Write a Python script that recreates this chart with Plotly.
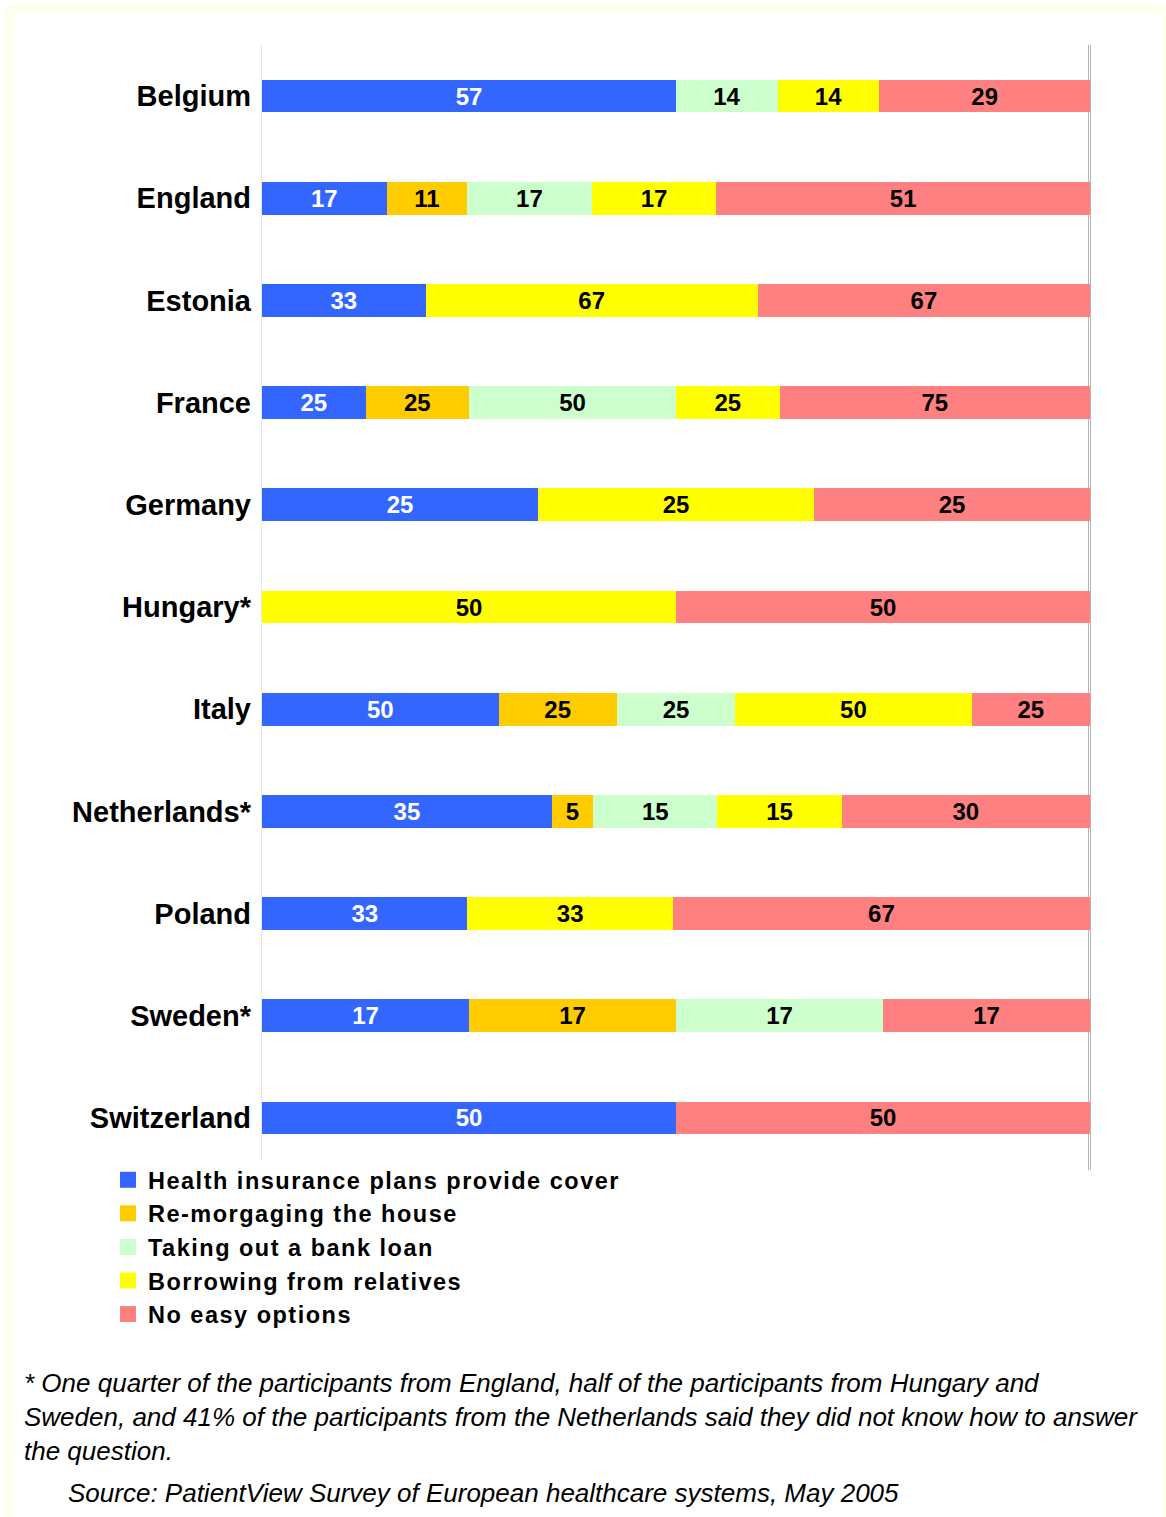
import plotly.graph_objects as go

# Survey answers per country (percentages as reported by respondents)
countries = ["Belgium", "England", "Estonia", "France", "Germany", "Hungary*",
             "Italy", "Netherlands*", "Poland", "Sweden*", "Switzerland"]

health_insurance = [57, 17, 33, 25, 25, None, 50, 35, 33, 17, 50]
remortgaging     = [None, 11, None, 25, None, None, 25, 5, None, 17, None]
bank_loan        = [14, 17, None, 50, None, None, 25, 15, None, 17, None]
relatives        = [14, 17, 67, 25, 25, 50, 50, 15, 33, None, None]
no_easy_options  = [29, 51, 67, 75, 25, 50, 25, 30, 67, 17, 50]

series_names = ["Health insurance plans provide cover", "Re-morgaging the house",
                "Taking out a bank loan", "Borrowing from relatives", "No easy options"]
series_values = [health_insurance, remortgaging, bank_loan, relatives, no_easy_options]
series_colors = ["#3366FF", "#FFCC00", "#CCFFCC", "#FFFF00", "#FF8080"]
label_colors = ["#FFFFFF", "#000000", "#000000", "#000000", "#000000"]

footnote_lines = [
    "* One quarter of the participants from England, half of the participants from Hungary and",
    "Sweden, and 41% of the participants from the Netherlands said they did not know how to answer",
    "the question.",
]
source_line = "Source: PatientView Survey of European healthcare systems, May 2005"

# Page geometry (pixels)
W, H = 1166, 1517
PLOT_L, PLOT_R, PLOT_T, PLOT_B = 262, 1090, 45, 1169
FONT = "Liberation Sans, Arial, sans-serif"


def px_x(px):
    return (px - PLOT_L) / (PLOT_R - PLOT_L)


def px_y(py):
    return (PLOT_B - py) / (PLOT_B - PLOT_T)


def spaced(text, px):
    return f'<span style="letter-spacing:{px}px">{text}</span>'


fig = go.Figure()

for name, vals, color, tcolor in zip(series_names, series_values, series_colors, label_colors):
    fig.add_trace(go.Bar(
        y=countries,
        x=vals,
        orientation="h",
        name=name,
        legendgroup=name,
        showlegend=False,
        marker=dict(color=color, line=dict(width=0)),
        text=[("" if v is None else str(v)) for v in vals],
        texttemplate="%{text}",
        textposition="inside",
        insidetextanchor="middle",
        textangle=0,
        textfont=dict(family=FONT, size=24, color=tcolor, weight="bold"),
        hoverinfo="skip",
    ))

# Legend keys drawn as square swatches
for name, color in zip(series_names, series_colors):
    fig.add_trace(go.Scatter(
        x=[None], y=[None],
        mode="markers",
        name=spaced(name, 1.5),
        legendgroup=name,
        marker=dict(symbol="square", size=17, color=color, line=dict(width=0)),
        hoverinfo="skip",
    ))

shapes = [
    # pale frame around the page
    dict(type="rect", xref="paper", yref="paper", layer="below",
         x0=px_x(6), x1=px_x(1175), y0=px_y(4), y1=px_y(1530),
         fillcolor="#FFFFEE", line=dict(width=0)),
    dict(type="rect", xref="paper", yref="paper", layer="below",
         x0=px_x(15), x1=px_x(1162), y0=px_y(13), y1=px_y(1530),
         fillcolor="#FFFFFF", line=dict(width=0)),
    # left boundary of the bars
    dict(type="line", xref="paper", yref="paper", layer="below",
         x0=px_x(261.5), x1=px_x(261.5), y0=1, y1=px_y(1160),
         line=dict(color="#E6E6E6", width=1)),
    # double rule at 100%
    dict(type="line", xref="paper", yref="paper", layer="below",
         x0=px_x(1088.5), x1=px_x(1088.5), y0=1, y1=px_y(1170),
         line=dict(color="#B4B4B4", width=1)),
    dict(type="line", xref="paper", yref="paper", layer="below",
         x0=px_x(1090.5), x1=px_x(1090.5), y0=1, y1=px_y(1170),
         line=dict(color="#B4B4B4", width=1)),
]

annotations = []
for i, line in enumerate(footnote_lines):
    annotations.append(dict(
        text=line, xref="paper", yref="paper",
        x=px_x(22), y=px_y(1383 + 34 * i), xanchor="left", yanchor="middle",
        showarrow=False, font=dict(family=FONT, size=26, color="#000000", style="italic"),
    ))
annotations.append(dict(
    text=source_line, xref="paper", yref="paper",
    x=px_x(66), y=px_y(1493), xanchor="left", yanchor="middle",
    showarrow=False, font=dict(family=FONT, size=26, color="#000000", style="italic"),
))

fig.update_layout(
    width=W, height=H,
    margin=dict(l=PLOT_L, r=W - PLOT_R, t=PLOT_T, b=H - PLOT_B, pad=0, autoexpand=False),
    paper_bgcolor="#FFFFFF",
    plot_bgcolor="rgba(0,0,0,0)",
    barmode="stack",
    barnorm="percent",
    bargap=0.68,
    uniformtext=dict(minsize=24, mode="show"),
    showlegend=True,
    legend=dict(
        xref="paper", yref="paper",
        x=px_x(108), y=px_y(1158), xanchor="left", yanchor="top",
        font=dict(family=FONT, size=23.5, color="#000000", weight="bold"),
        bgcolor="rgba(0,0,0,0)", borderwidth=0,
        traceorder="normal", itemclick=False, itemdoubleclick=False,
    ),
    xaxis=dict(range=[0, 100], showgrid=False, zeroline=False, showline=False,
               showticklabels=False, ticks="", fixedrange=True),
    yaxis=dict(categoryorder="array", categoryarray=countries,
               range=[len(countries) - 0.5, -0.5], showgrid=False, zeroline=False,
               showline=False, ticks="", ticklabelstandoff=10,
               tickfont=dict(family=FONT, size=29, color="#000000", weight="bold"),
               fixedrange=True),
    shapes=shapes,
    annotations=annotations,
)

fig.write_html("out.html")
